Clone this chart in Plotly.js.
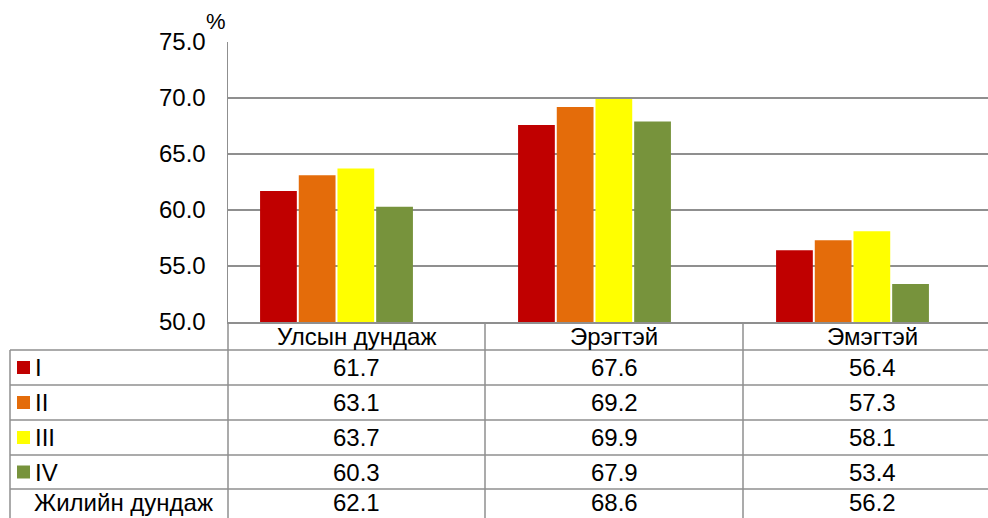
<!DOCTYPE html>
<html>
<head>
<meta charset="utf-8">
<script src="https://cdn.plot.ly/plotly-3.0.1.min.js"></script>
<style>
html,body{margin:0;padding:0;background:#fff;overflow:hidden;}
#chart{width:988px;height:518px;}
</style>
</head>
<body>
<div id="chart"></div>
<script>
// ---- data ----
const categories = ['Улсын дундаж', 'Эрэгтэй', 'Эмэгтэй'];
const seriesNames = ['I', 'II', 'III', 'IV'];
const valuesI   = [61.7, 67.6, 56.4];
const valuesII  = [63.1, 69.2, 57.3];
const valuesIII = [63.7, 69.9, 58.1];
const valuesIV  = [60.3, 67.9, 53.4];
const annualLabel = 'Жилийн дундаж';
const annualAvg = [62.1, 68.6, 56.2];
const yTicks = [50, 55, 60, 65, 70, 75];
const unitLabel = '%';

// ---- style ----
const colors = ['#C00000', '#E46C0A', '#FFFF00', '#77933C'];
const W = 988, H = 518;
const FONT = 'Liberation Sans, Arial, sans-serif';
const lineCol = '#8f8f8f';
const px = v => v / W;
const py = v => 1 - v / H;

const plotLeft = 228, plotTop = 42, plotBottom = 322;
const groupCenter0 = 336.5, catStep = 258;
const colEdges = [10, 228, 485, 743, 1001];
const rowEdges = [322, 350, 385, 420, 455, 489, 524];
const rowCenters = [367.5, 402.5, 437.5, 472, 502.5];

const allSeries = [valuesI, valuesII, valuesIII, valuesIV];

const traces = allSeries.map((vals, i) => ({
  type: 'bar',
  name: seriesNames[i],
  x: categories,
  y: vals,
  marker: {color: colors[i], line: {width: 0}},
  hoverinfo: 'skip'
}));

const shapes = [];
const annotations = [];

// horizontal table lines
for (let r = 1; r < rowEdges.length - 1; r++) {
  shapes.push({type: 'line', xref: 'paper', yref: 'paper',
    x0: px(colEdges[0]), x1: 1, y0: py(rowEdges[r]), y1: py(rowEdges[r]),
    line: {color: lineCol, width: 1.5}});
}
// vertical table lines
shapes.push({type: 'line', xref: 'paper', yref: 'paper',
  x0: px(colEdges[0]), x1: px(colEdges[0]), y0: py(rowEdges[1]), y1: 0,
  line: {color: lineCol, width: 1.5}});
for (let c = 1; c < colEdges.length - 1; c++) {
  shapes.push({type: 'line', xref: 'paper', yref: 'paper',
    x0: px(colEdges[c]), x1: px(colEdges[c]), y0: py(rowEdges[0]), y1: 0,
    line: {color: lineCol, width: 1.5}});
}

const fontMain = {family: FONT, size: 24, color: '#000'};

// header row: category names
categories.forEach((cat, c) => {
  annotations.push({xref: 'paper', yref: 'paper',
    x: px((colEdges[c + 1] + colEdges[c + 2]) / 2),
    y: py((rowEdges[0] + rowEdges[1]) / 2),
    text: cat, showarrow: false, xanchor: 'center', yanchor: 'middle',
    font: fontMain});
});

// series rows
const rowLabels = seriesNames.concat([annualLabel]);
const rowValues = allSeries.concat([annualAvg]);
rowLabels.forEach((lab, r) => {
  const yc = rowCenters[r];
  if (r < seriesNames.length) {
    shapes.push({type: 'rect', xref: 'paper', yref: 'paper',
      x0: px(17), x1: px(30), y0: py(yc - 6.5), y1: py(yc + 6.5),
      fillcolor: colors[r], line: {width: 0}});
  }
  annotations.push({xref: 'paper', yref: 'paper',
    x: px(r < seriesNames.length ? 33 : 32), y: py(yc),
    text: lab, showarrow: false, xanchor: 'left', yanchor: 'middle',
    font: fontMain});
  rowValues[r].forEach((v, c) => {
    annotations.push({xref: 'paper', yref: 'paper',
      x: px((colEdges[c + 1] + colEdges[c + 2]) / 2), y: py(yc),
      text: v.toFixed(1), showarrow: false, xanchor: 'center', yanchor: 'middle',
      font: fontMain});
  });
});

// unit label
annotations.push({xref: 'paper', yref: 'paper', x: px(216), y: py(21),
  text: unitLabel, showarrow: false, xanchor: 'center', yanchor: 'middle',
  font: {family: FONT, size: 22, color: '#000'}});

const xLeft = -(groupCenter0 - plotLeft) / catStep;
const xRight = xLeft + (W - plotLeft) / catStep;

const layout = {
  width: W, height: H,
  margin: {l: 0, r: 0, t: 0, b: 0, pad: 0},
  paper_bgcolor: '#fff', plot_bgcolor: '#fff',
  showlegend: false,
  barmode: 'group',
  bargap: 0.4,
  bargroupgap: 0.05,
  font: {family: FONT, color: '#000'},
  xaxis: {
    type: 'category',
    domain: [px(plotLeft), 1],
    range: [xLeft, xRight],
    showticklabels: false,
    showgrid: false, zeroline: false,
    showline: true, linecolor: lineCol, linewidth: 1.5,
    fixedrange: true
  },
  yaxis: {
    domain: [py(plotBottom), py(plotTop)],
    range: [50, 75],
    tickvals: yTicks,
    ticktext: yTicks.map(v => v.toFixed(1)),
    tickfont: {family: FONT, size: 24, color: '#000'},
    ticks: '',
    ticklabelstandoff: 16,
    showgrid: true, gridcolor: lineCol, gridwidth: 1.5,
    zeroline: false,
    showline: true, linecolor: lineCol, linewidth: 1.5,
    fixedrange: true
  },
  shapes: shapes,
  annotations: annotations,
  hovermode: false
};

Plotly.newPlot('chart', traces, layout, {staticPlot: true, displayModeBar: false});
</script>
</body>
</html>
